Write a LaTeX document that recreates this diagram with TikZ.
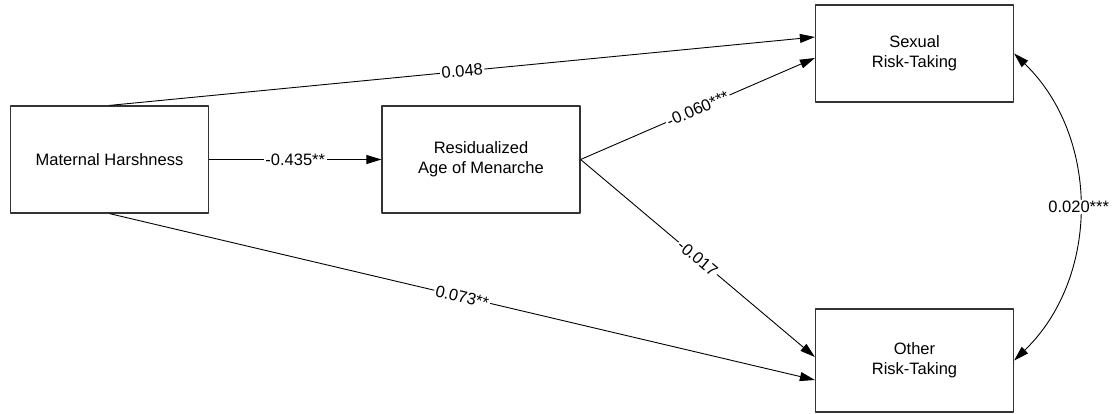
\documentclass[tikz,border=0pt]{standalone}
\usepackage{fontspec}
\setmainfont{Liberation Sans}
\usetikzlibrary{arrows.meta}

\tikzset{
  varbox/.style={draw=black!80, line width=1.2pt, minimum width=198pt, align=center,
                 font=\fontsize{16.5}{20}\selectfont},
  conn/.style={line width=0.9pt, -{Triangle[length=15pt,width=9pt]}},
  coef/.style={fill=white, inner sep=1.5pt, font=\fontsize{16.5}{20}\selectfont},
}

\begin{document}
\begin{tikzpicture}[x=1pt, y=-1pt, line join=round]

  %% ════ 变量框 ════
  \node[varbox, minimum height=107pt] (mh)  at (109.5,159.5) {Maternal Harshness};
  \node[varbox, minimum height=107pt] (res) at (481.0,159.5) {Residualized\\Age of Menarche};
  \node[varbox, minimum height=97pt]  (sex) at (914.5,53.5)  {Sexual\\Risk-Taking};
  \node[varbox, minimum height=103pt] (oth) at (914.5,360.5) {Other\\Risk-Taking};

  %% ════ 路径 ════
  \draw[conn] (mh.east) -- (res.west)
    node[coef, midway] {-0.435**};
  \draw[conn] (mh.north) -- ([yshift=16.5pt]sex.west)
    node[coef, midway, sloped] {0.048};
  \draw[conn] (res.east) -- ([yshift=-4.5pt]sex.west)
    node[coef, midway, sloped] {-0.060***};
  \draw[conn] (res.east) -- ([yshift=3.5pt]oth.west)
    node[coef, midway, sloped] {-0.017};
  \draw[conn] (mh.south) -- ([yshift=-19.5pt]oth.west)
    node[coef, midway, sloped] {0.073**};

  %% ════ 残差相关（双向弧）════
  \draw[conn, {Triangle[length=15pt,width=9pt]}-{Triangle[length=15pt,width=9pt]}]
    (sex.east) to[bend left=46] node[coef, midway] {0.020***} (oth.east);

  % 钉死画布
  \pgfresetboundingbox
  \path[use as bounding box] (0,0) rectangle (1114,413);
\end{tikzpicture}
\end{document}
